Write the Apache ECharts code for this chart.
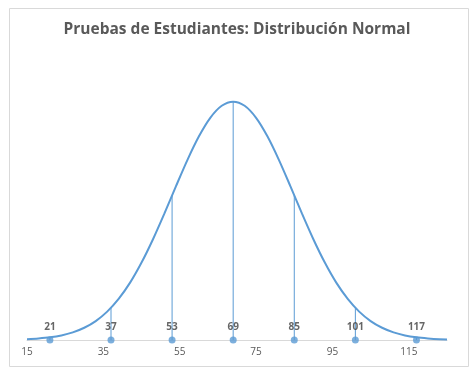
<!DOCTYPE html>
<html>
<head>
<meta charset="utf-8">
<script src="https://cdn.jsdelivr.net/npm/echarts@6/dist/echarts.min.js"></script>
<style>
html,body{margin:0;padding:0;background:#fff;}
#main{width:474px;height:377px;}
</style>
</head>
<body>
<div id="main"></div>
<script>
// curve (height in arbitrary units, peak at 69)
var curveX = [15,18,21,24,27,30,33,36,39,42,45,48,51,54,57,60,63,66,69,
              72,75,78,81,84,87,90,93,96,99,102,105,108,111,114,117,120,123,125];
var curveY = [0.08,0.16,0.28,0.48,0.80,1.28,1.98,2.97,4.30,6.00,8.10,10.54,13.24,16.07,18.82,21.28,23.24,24.50,24.93,
              24.50,23.24,21.28,18.82,16.07,13.24,10.54,8.10,6.00,4.30,2.97,1.98,1.28,0.80,0.48,0.28,0.16,0.08,0.06];

// marked scores and curve height above each
var markX = [21,37,53,69,85,101,117];
var markY = [0.28,3.37,15.12,24.93,15.12,3.37,0.28];

var curveData = [];
for (var i = 0; i < curveX.length; i++) {
    curveData.push([curveX[i], curveY[i]]);
}
var dropData = [];
var pointData = [];
for (var j = 0; j < markX.length; j++) {
    dropData.push([markX[j], 0]);
    dropData.push([markX[j], markY[j]]);
    dropData.push('-');
    pointData.push([markX[j], 0]);
}

var blue = '#5B9BD5';
var myChart = echarts.init(document.getElementById('main'));
var option = {
    animation: false,
    title: {
        text: 'Pruebas de Estudiantes: Distribución Normal',
        left: 'center',
        top: 17,
        textStyle: {
            fontFamily: 'Open Sans',
            fontSize: 15.5,
            fontWeight: 'bold',
            color: '#595959'
        }
    },
    graphic: [{
        type: 'rect',
        shape: {x: 9.5, y: 8.5, width: 459, height: 358},
        style: {fill: 'none', stroke: '#D9D9D9', lineWidth: 1},
        silent: true,
        z: -1
    }],
    grid: {left: 27, right: 27, top: 101, bottom: 37},
    xAxis: {
        type: 'value',
        min: 15,
        max: 125,
        interval: 20,
        splitLine: {show: false},
        axisTick: {show: false},
        axisLine: {lineStyle: {color: '#D9D9D9', width: 1}},
        axisLabel: {
            color: '#595959',
            fontFamily: 'Open Sans',
            fontSize: 10,
            margin: 7,
            showMaxLabel: false
        }
    },
    yAxis: {
        type: 'value',
        min: 0,
        max: 25,
        show: false
    },
    series: [
        {
            name: 'curva',
            type: 'line',
            data: curveData,
            smooth: 0.3,
            showSymbol: false,
            lineStyle: {color: blue, width: 2},
            z: 3
        },
        {
            name: 'lineas',
            type: 'line',
            data: dropData,
            connectNulls: false,
            showSymbol: false,
            lineStyle: {color: blue, width: 1},
            z: 2
        },
        {
            name: 'puntos',
            type: 'scatter',
            data: pointData,
            symbolSize: 7,
            itemStyle: {color: blue},
            label: {
                show: true,
                position: 'top',
                distance: 4,
                formatter: function (p) { return p.value[0]; },
                color: '#404040',
                fontFamily: 'Open Sans',
                fontSize: 10,
                fontWeight: 'bold'
            },
            z: 4
        }
    ]
};
myChart.setOption(option);
</script>
</body>
</html>
